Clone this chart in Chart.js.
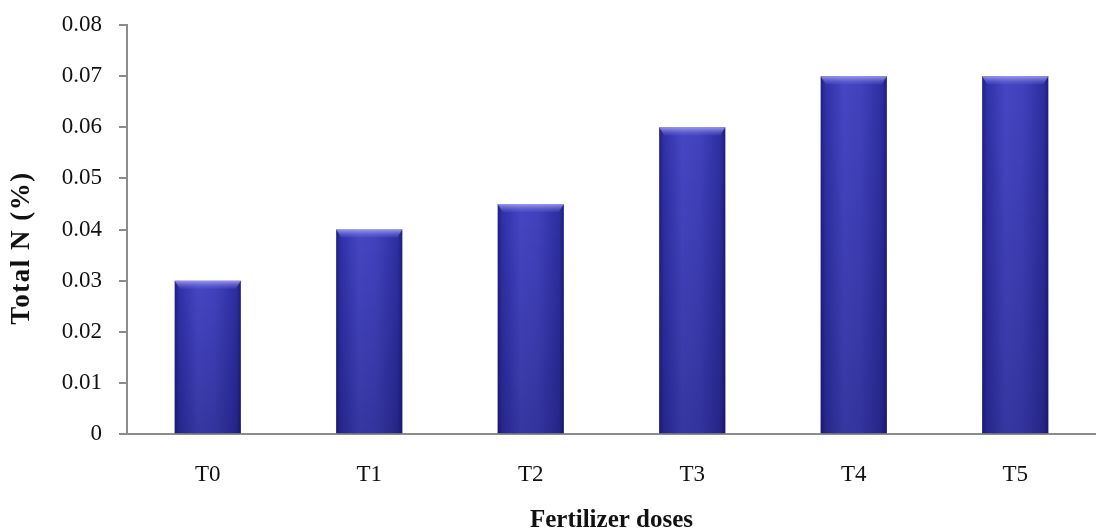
<!DOCTYPE html>
<html>
<head>
<meta charset="utf-8">
<script src="https://cdn.jsdelivr.net/npm/chart.js@4.4.1/dist/chart.umd.min.js"></script>
<style>
  html, body { margin: 0; padding: 0; background: #fff; }
  #wrap { width: 1096px; height: 529px; }
</style>
</head>
<body>
<div id="wrap"><canvas id="c" width="1096" height="529"></canvas></div>
<script>
/* data */
var categories = ["T0", "T1", "T2", "T3", "T4", "T5"];
var totalN = [0.030, 0.040, 0.045, 0.060, 0.070, 0.070];
var yTicks = [0, 0.01, 0.02, 0.03, 0.04, 0.05, 0.06, 0.07, 0.08];
var xTitle = "Fertilizer doses";
var yTitle = "Total N (%)";

var SERIF = '"Liberation Serif", "Times New Roman", serif';
var AXIS = "#8c8c8c";
var BAR_PCT = 0.41;

/* horizontal shading across each bar: dark edges, lighter middle */
var barFill = function (context) {
  var chart = context.chart;
  var xs = chart.scales.x;
  if (!xs || !chart.chartArea) return "#3535a8";
  var cx = xs.getPixelForValue(context.dataIndex);
  var w = (xs.width / categories.length) * BAR_PCT;
  var g = chart.ctx.createLinearGradient(cx - w / 2, 0, cx + w / 2, 0);
  g.addColorStop(0, "#202082");
  g.addColorStop(0.07, "#3030a8");
  g.addColorStop(0.35, "#4646c4");
  g.addColorStop(0.6, "#4242be");
  g.addColorStop(0.93, "#2e2ea2");
  g.addColorStop(1, "#1e1e7a");
  return g;
};

/* bottom darkening, top bevel, and the two axis titles */
Chart.register({
  id: "decor",
  afterDatasetsDraw: function (chart) {
    var ctx = chart.ctx;
    var bottom = chart.chartArea.bottom;
    chart.getDatasetMeta(0).data.forEach(function (bar) {
      var l = bar.x - bar.width / 2, r = bar.x + bar.width / 2, t = bar.y;
      ctx.save();
      var v = ctx.createLinearGradient(0, t, 0, bottom);
      v.addColorStop(0, "rgba(0,0,40,0)");
      v.addColorStop(1, "rgba(0,0,40,0.22)");
      ctx.fillStyle = v;
      ctx.fillRect(l, t, r - l, bottom - t);
      var g = ctx.createLinearGradient(0, t, 0, t + 8);
      g.addColorStop(0, "rgba(160,160,240,0.95)");
      g.addColorStop(1, "rgba(100,100,215,0.2)");
      ctx.fillStyle = g;
      ctx.beginPath();
      ctx.moveTo(l, t);
      ctx.lineTo(r, t);
      ctx.lineTo(r - 5, t + 8);
      ctx.lineTo(l + 5, t + 8);
      ctx.closePath();
      ctx.fill();
      ctx.restore();
    });
  },
  afterDraw: function (chart) {
    var ctx = chart.ctx, a = chart.chartArea;
    ctx.save();
    ctx.fillStyle = "#111";
    ctx.textAlign = "center";
    ctx.textBaseline = "alphabetic";
    ctx.font = "bold 25px " + SERIF;
    ctx.fillText(xTitle, (a.left + a.right) / 2, 527);
    ctx.translate(29, 248);
    ctx.rotate(-Math.PI / 2);
    ctx.font = "bold 27px " + SERIF;
    ctx.letterSpacing = "1.5px";
    ctx.fillText(yTitle, 0, 0);
    ctx.restore();
  }
});

new Chart(document.getElementById("c").getContext("2d"), {
  type: "bar",
  data: {
    labels: categories,
    datasets: [{
      data: totalN,
      backgroundColor: barFill,
      borderWidth: 0,
      categoryPercentage: 1,
      barPercentage: BAR_PCT
    }]
  },
  options: {
    responsive: false,
    animation: false,
    layout: { padding: { top: 25, right: 0, left: 0, bottom: 0 } },
    plugins: { legend: { display: false }, tooltip: { enabled: false } },
    scales: {
      x: {
        offset: true,
        grid: { display: false },
        border: { display: true, color: AXIS, width: 2 },
        ticks: { color: "#111", font: { family: SERIF, size: 23 }, padding: 19 },
        afterFit: function (a) { a.height = 95; a.paddingLeft = 0; a.paddingRight = 0; }
      },
      y: {
        min: 0, max: 0.08,
        afterBuildTicks: function (axis) { axis.ticks = yTicks.map(function (v) { return { value: v }; }); },
        grid: { drawOnChartArea: false, drawTicks: true, tickLength: 8, color: AXIS, lineWidth: 2 },
        border: { display: true, color: AXIS, width: 2 },
        ticks: {
          color: "#111", font: { family: SERIF, size: 23 }, padding: 17,
          callback: function (v) { return v === 0 ? "0" : v.toFixed(2); }
        },
        afterFit: function (a) { a.width = 127; a.paddingTop = 0; a.paddingBottom = 0; }
      }
    }
  }
});
</script>
</body>
</html>
